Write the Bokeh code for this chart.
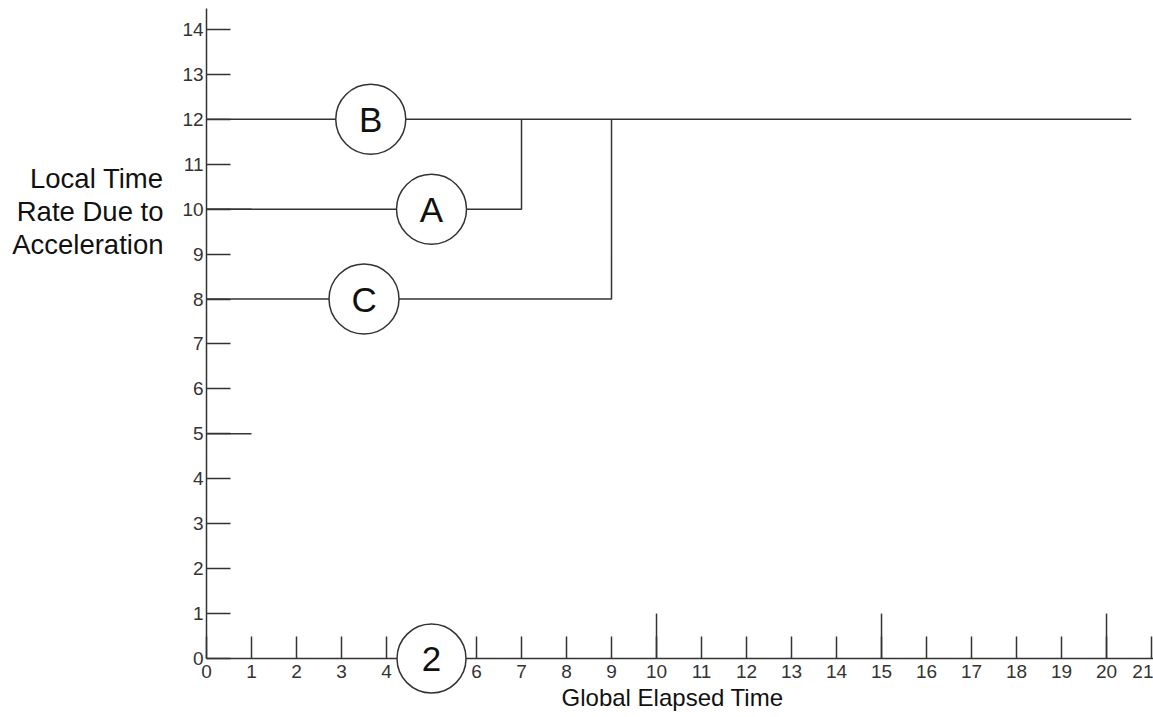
from bokeh.plotting import figure
from bokeh.models import Range1d, LinearAxis, FixedTicker, Label, ColumnDataSource
from bokeh.core.properties import value
from bokeh.embed import file_html
from bokeh.resources import INLINE

# ---- data ----
x_ticks = list(range(0, 22))
y_ticks = list(range(0, 15))
x_long_ticks = [10, 15, 20]
y_long_ticks = [5, 10]

b_x = [0, 20.55]
b_y = [12, 12]
a_x = [0, 7, 7]
a_y = [10, 10, 12]
c_x = [0, 9, 9]
c_y = [8, 8, 12]

node_labels = ["B", "A", "C"]
node_x = [3.65, 5.0, 3.5]
node_y = [12, 10, 8]

axis_node_label = ["2"]
axis_node_x = [5.0]
axis_node_y = [0]

x_title = "Global Elapsed Time"
y_title = "Local Time\nRate Due to\nAcceleration"

# ---- styles ----
FONT = "Liberation Sans"
INK = "#333333"
X_START, X_END = -4.578, 21.044
Y_START, Y_END = -1.313, 14.645
X_AXIS_END = 21.044
Y_AXIS_END = 14.467

p = figure(width=1153, height=717, output_backend="svg", toolbar_location=None,
           x_range=Range1d(X_START, X_END), y_range=Range1d(Y_START, Y_END),
           x_axis_location=None, y_axis_location=None,
           min_border_left=0, min_border_right=0, min_border_top=0, min_border_bottom=0)
p.grid.visible = False
p.outline_line_color = None
p.background_fill_color = "white"
p.border_fill_color = "white"

yaxis = LinearAxis(ticker=FixedTicker(ticks=y_ticks), bounds=(0, Y_AXIS_END), fixed_location=0)
xaxis = LinearAxis(ticker=FixedTicker(ticks=x_ticks), bounds=(0, X_AXIS_END), fixed_location=0)
for ax, tin, fs, so in ((yaxis, 24, "19px", 3), (xaxis, 22, "19px", 6)):
    ax.major_tick_in = tin
    ax.major_tick_out = 0
    ax.minor_tick_in = 0
    ax.minor_tick_out = 0
    ax.axis_line_color = INK
    ax.axis_line_width = 1.5
    ax.major_tick_line_color = INK
    ax.major_tick_line_width = 1.5
    ax.major_label_text_font = FONT
    ax.major_label_text_font_size = fs
    ax.major_label_text_color = INK
    ax.major_label_standoff = so
p.add_layout(yaxis, "left")
p.add_layout(xaxis, "below")

# longer ticks every 5 units
p.segment(x0=x_long_ticks, y0=[0] * len(x_long_ticks), x1=x_long_ticks, y1=[1] * len(x_long_ticks),
          line_color=INK, line_width=1.5)
p.segment(x0=[0] * len(y_long_ticks), y0=y_long_ticks, x1=[1] * len(y_long_ticks), y1=y_long_ticks,
          line_color=INK, line_width=1.5)

for xs, ys in ((b_x, b_y), (a_x, a_y), (c_x, c_y)):
    p.line(xs, ys, line_color=INK, line_width=1.5)

src = ColumnDataSource(dict(x=node_x, y=node_y, t=node_labels))
p.scatter("x", "y", source=src, marker="circle", size=70, fill_color="white",
          line_color=INK, line_width=1.5)
p.text("x", "y", text="t", source=src, text_font=value(FONT), text_font_size="35px",
       text_align="center", text_baseline="middle", text_color="#111111")

src2 = ColumnDataSource(dict(x=axis_node_x, y=axis_node_y, t=axis_node_label))
r1 = p.scatter("x", "y", source=src2, marker="circle", size=69, fill_color="white",
               line_color=INK, line_width=1.5)
r2 = p.text("x", "y", text="t", source=src2, text_font=value(FONT), text_font_size="35px",
            text_align="center", text_baseline="middle", text_color="#111111")
r1.level = "overlay"
r2.level = "overlay"

p.add_layout(Label(x=163, y=506, x_units="screen", y_units="screen", text=y_title,
                   text_font=FONT, text_font_size="27.5px", text_align="right",
                   text_baseline="middle", text_line_height=1.05, text_color="#111111"))
p.add_layout(Label(x=672, y=20, x_units="screen", y_units="screen", text=x_title,
                   text_font=FONT, text_font_size="24px", text_align="center",
                   text_baseline="middle", text_color="#111111"))

open("out.html", "w").write(file_html(p, INLINE))
